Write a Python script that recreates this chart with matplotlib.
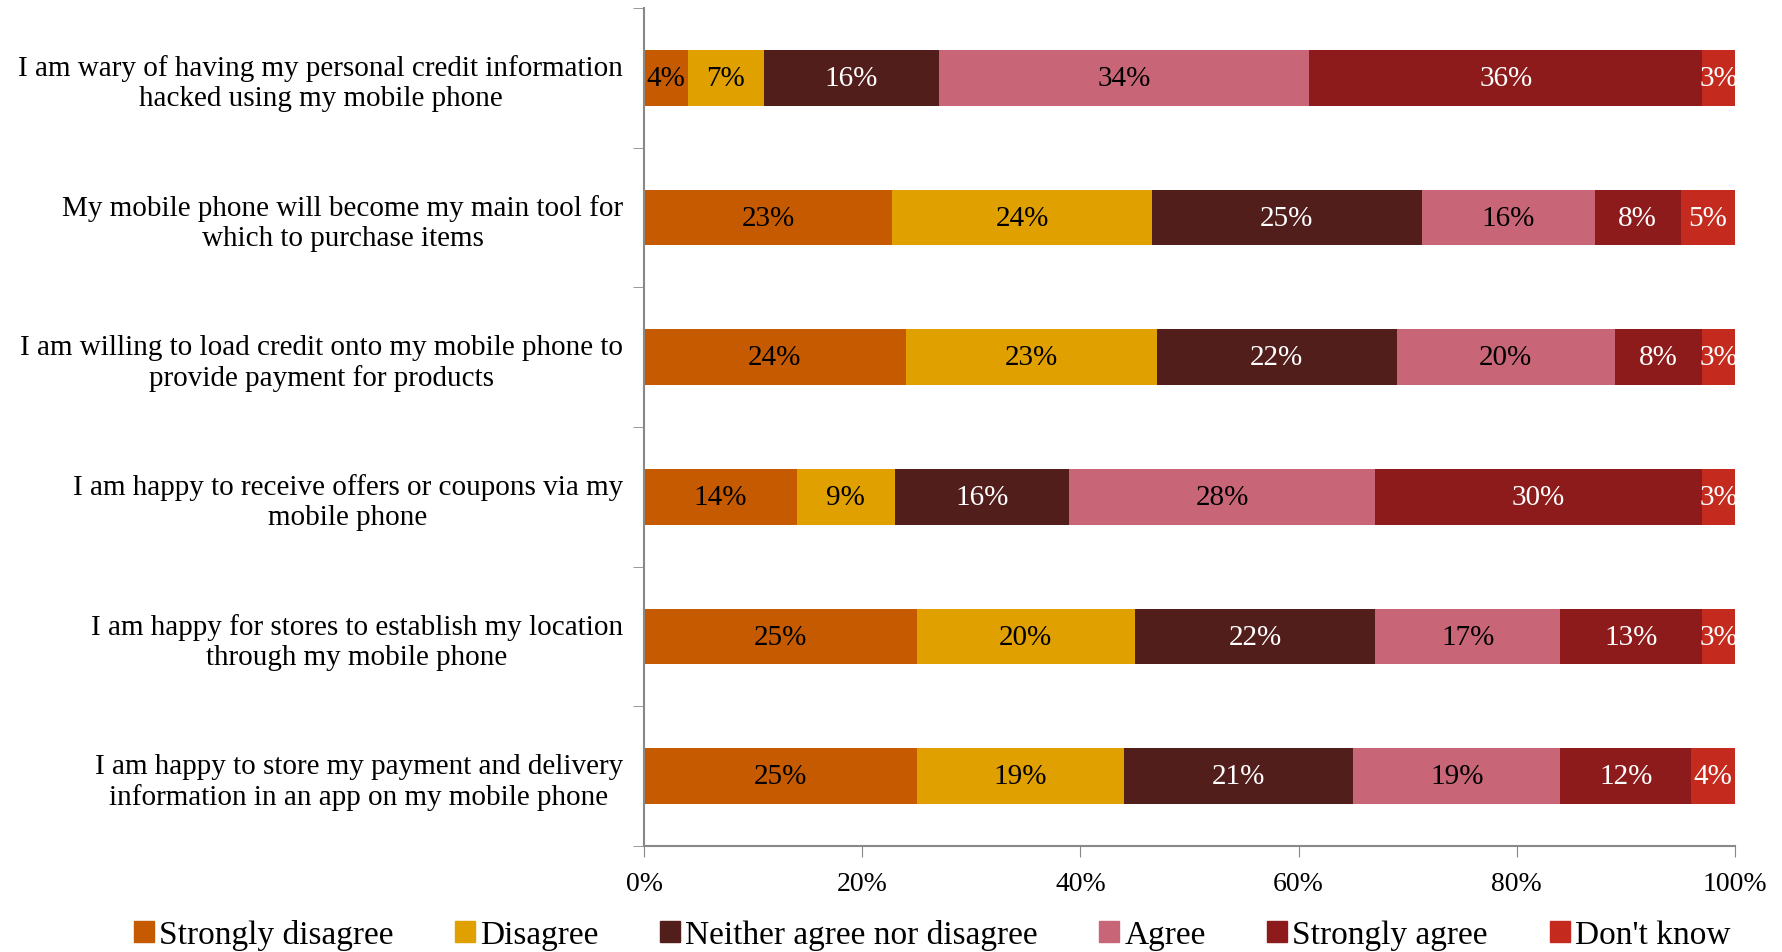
import numpy as np
import matplotlib.pyplot as plt
import matplotlib.transforms as mtransforms
from matplotlib.patches import Patch

plt.rcParams['font.family'] = ['Liberation Serif', 'DejaVu Serif']

statements = [
    "I am wary of having my personal credit information\nhacked using my mobile phone",
    "My mobile phone will become my main tool for\nwhich to purchase items",
    "I am willing to load credit onto my mobile phone to\nprovide payment for products",
    "I am happy to receive offers or coupons via my\nmobile phone",
    "I am happy for stores to establish my location\nthrough my mobile phone",
    "I am happy to store my payment and delivery\ninformation in an app on my mobile phone",
]
responses = ["Strongly disagree", "Disagree", "Neither agree nor disagree",
             "Agree", "Strongly agree", "Don't know"]

strongly_disagree = [4, 23, 24, 14, 25, 25]
disagree = [7, 24, 23, 9, 20, 19]
neither = [16, 25, 22, 16, 22, 21]
agree = [34, 16, 20, 28, 17, 19]
strongly_agree = [36, 8, 8, 30, 13, 12]
dont_know = [3, 5, 3, 3, 3, 4]

colors = ['#C55A00', '#E0A000', '#521E1C', '#C86677', '#8E1B1B', '#C42B1E']
text_colors = ['black', 'black', 'white', 'black', 'white', 'white']


def main():
    series = np.array([strongly_disagree, disagree, neither, agree,
                       strongly_agree, dont_know], dtype=float)
    # 100% stacked: scale each row to its own total
    shares = series / series.sum(axis=0) * 100

    fig = plt.figure(figsize=(17.82, 9.53), dpi=100)
    ax = fig.add_axes([0.3614, 0.1112, 0.6122, 0.8793])

    y = np.arange(len(statements))
    left = np.zeros(len(statements))
    for i in range(len(responses)):
        ax.barh(y, shares[i], left=left, height=0.4, color=colors[i],
                edgecolor='none')
        for j in range(len(statements)):
            cx = left[j] + shares[i, j] / 2
            ax.text(cx, y[j], f"{int(series[i, j])}%", ha='center', va='center',
                    fontsize=21, color=text_colors[i], clip_on=False)
        left += shares[i]

    ax.set_xlim(0, 100)
    ax.set_ylim(len(statements) - 0.5, -0.5)
    ax.set_xticks(np.arange(0, 101, 20))
    ax.set_xticklabels([f"{v}%" for v in range(0, 101, 20)], fontsize=20)
    ax.set_yticks(y)
    ax.set_yticklabels(statements, fontsize=21)
    # nudge the two-line labels up a little so they sit on the bar centres
    nudge = mtransforms.ScaledTranslation(0, 3 / 100, fig.dpi_scale_trans)
    for lbl in ax.get_yticklabels():
        lbl.set_multialignment('center')
        lbl.set_transform(lbl.get_transform() + nudge)
    ax.set_yticks(np.arange(-0.5, len(statements)), minor=True)
    ax.tick_params(axis='y', which='major', length=0, pad=15)
    ax.tick_params(axis='y', which='minor', length=8, color='#888888')
    ax.tick_params(axis='x', length=8, color='#888888', pad=10)

    for side in ['top', 'right']:
        ax.spines[side].set_visible(False)
    for side in ['left', 'bottom']:
        ax.spines[side].set_color('#888888')
        ax.spines[side].set_linewidth(1.5)

    handles = [Patch(color=c, label=r) for c, r in zip(colors, responses)]
    fig.legend(handles=handles, loc='center', bbox_to_anchor=(0.523, 0.018),
               ncol=6, frameon=False, fontsize=24, handlelength=0.6,
               handleheight=0.6, handletextpad=0.15, columnspacing=1.85)

    fig.savefig('out.png', dpi=100)


if __name__ == "__main__":
    main()
